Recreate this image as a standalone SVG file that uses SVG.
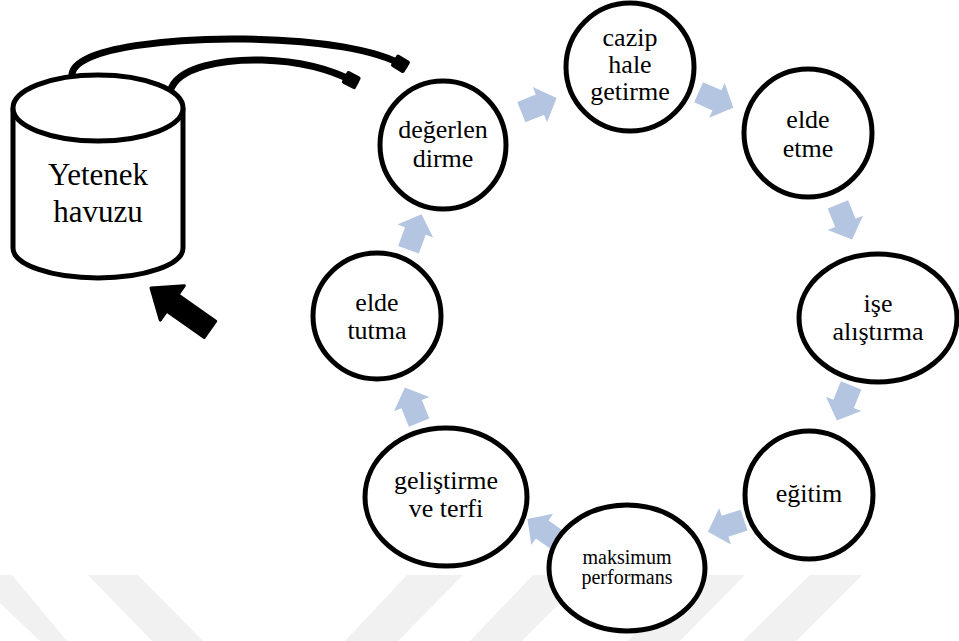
<svg xmlns="http://www.w3.org/2000/svg" width="959" height="641" viewBox="0 0 959 641">
  <defs>
    <marker id="stub" viewBox="-2 -1.2 3 2.4" refX="0" refY="0" markerWidth="3" markerHeight="2.4" orient="auto" markerUnits="strokeWidth">
      <rect x="-1.7" y="-1" width="2.2" height="2" rx="0.3" fill="#000000"/>
    </marker>
    <polygon id="step-arrow" points="-19,-11 1,-11 1,-19 19,0 1,19 1,11 -19,11" fill="#b3c5e1"/>
  </defs>
  <rect width="959" height="641" fill="#ffffff"/>

  <!-- faint background bands -->
  <g id="bands" fill="#f1f1f1">
    <polygon points="0,575 12,575 67,641 40,641 0,603"/>
    <polygon points="88,575 138,575 203,641 152,641"/>
    <polygon points="407,575 463,575 398,641 345,641"/>
    <polygon points="533,575 588,575 522,641 470,641"/>
    <polygon points="690,575 745,575 680,641 628,641"/>
    <polygon points="810,575 862,575 796,641 743,641"/>
  </g>

  <!-- connectors -->
  <g id="connectors">
    <g fill="none" stroke="#000000" stroke-width="7" stroke-linecap="round">
      <path d="M 72 74 C 76 46 180 38 245 39 C 320 40 378 50 404 66" marker-end="url(#stub)"/>
      <path d="M 170 92 C 176 66 226 59 262 60 C 300 61 332 70 355 82" marker-end="url(#stub)"/>
    </g>
    <polygon fill="#000000" stroke="#000000" stroke-width="3" stroke-linejoin="round" transform="translate(151,288) rotate(35)" points="0,0 26,-21 26,-10 72,-10 72,10 26,10 26,21"/>
    <use href="#step-arrow" transform="translate(539,105) rotate(-22)"/>
    <use href="#step-arrow" transform="translate(716,100) rotate(24)"/>
    <use href="#step-arrow" transform="translate(845,222) rotate(68)"/>
    <use href="#step-arrow" transform="translate(844,403) rotate(112)"/>
    <use href="#step-arrow" transform="translate(726,526) rotate(162)"/>
    <use href="#step-arrow" transform="translate(543,530) rotate(215)"/>
    <use href="#step-arrow" transform="translate(412,405) rotate(-112)"/>
    <use href="#step-arrow" transform="translate(415,232) rotate(-70)"/>
  </g>

  <!-- nodes: white fill, black outline -->
  <g id="nodes" stroke="#000000" stroke-width="5" fill="#ffffff">
    <g id="pool">
      <path d="M 13 108 L 13 248 A 85 30 0 0 0 183 248 L 183 108"/>
      <ellipse cx="98" cy="108" rx="85" ry="33"/>
    </g>
    <g id="cazip"><ellipse cx="630" cy="67" rx="64" ry="64"/></g>
    <g id="elde-etme"><ellipse cx="808" cy="133" rx="64" ry="64"/></g>
    <g id="ise-alistirma"><ellipse cx="878" cy="318" rx="79" ry="64"/></g>
    <g id="egitim"><ellipse cx="809" cy="495" rx="64" ry="64"/></g>
    <g id="maksimum"><ellipse cx="627" cy="568" rx="78" ry="63"/></g>
    <g id="gelistirme"><ellipse cx="446" cy="497" rx="81" ry="69"/></g>
    <g id="elde-tutma"><ellipse cx="377" cy="316" rx="64" ry="63"/></g>
    <g id="degerlendirme"><ellipse cx="443" cy="145" rx="63" ry="64"/></g>
  </g>

  <!-- serif labels -->
  <g id="labels" style="font-family: 'Liberation Serif', 'Times New Roman', serif !important; font-size: 26px;" fill="#000000" text-anchor="middle">
    <text x="98" y="185" style="font-family: 'Liberation Serif', serif !important; font-size: 31px;">Yetenek</text>
    <text x="98" y="222" style="font-family: 'Liberation Serif', serif !important; font-size: 31px;">havuzu</text>
    <text x="630" y="46" style="font-family: 'Liberation Serif', serif !important;">cazip</text>
    <text x="630" y="73" style="font-family: 'Liberation Serif', serif !important;">hale</text>
    <text x="630" y="100" style="font-family: 'Liberation Serif', serif !important;">getirme</text>
    <text x="808" y="128" style="font-family: 'Liberation Serif', serif !important;">elde</text>
    <text x="808" y="157" style="font-family: 'Liberation Serif', serif !important;">etme</text>
    <text x="878" y="312" style="font-family: 'Liberation Serif', serif !important;">işe</text>
    <text x="878" y="340" style="font-family: 'Liberation Serif', serif !important;">alıştırma</text>
    <text x="809" y="502" style="font-family: 'Liberation Serif', serif !important;">eğitim</text>
    <text x="627" y="564" style="font-family: 'Liberation Serif', serif !important; font-size: 20px;">maksimum</text>
    <text x="627" y="584" style="font-family: 'Liberation Serif', serif !important; font-size: 20px;">performans</text>
    <text x="446" y="489" style="font-family: 'Liberation Serif', serif !important;">geliştirme</text>
    <text x="446" y="517" style="font-family: 'Liberation Serif', serif !important;">ve terfi</text>
    <text x="377" y="311" style="font-family: 'Liberation Serif', serif !important;">elde</text>
    <text x="377" y="339" style="font-family: 'Liberation Serif', serif !important;">tutma</text>
    <text x="443" y="138" style="font-family: 'Liberation Serif', serif !important;">değerlen</text>
    <text x="443" y="167" style="font-family: 'Liberation Serif', serif !important;">dirme</text>
  </g>
</svg>
